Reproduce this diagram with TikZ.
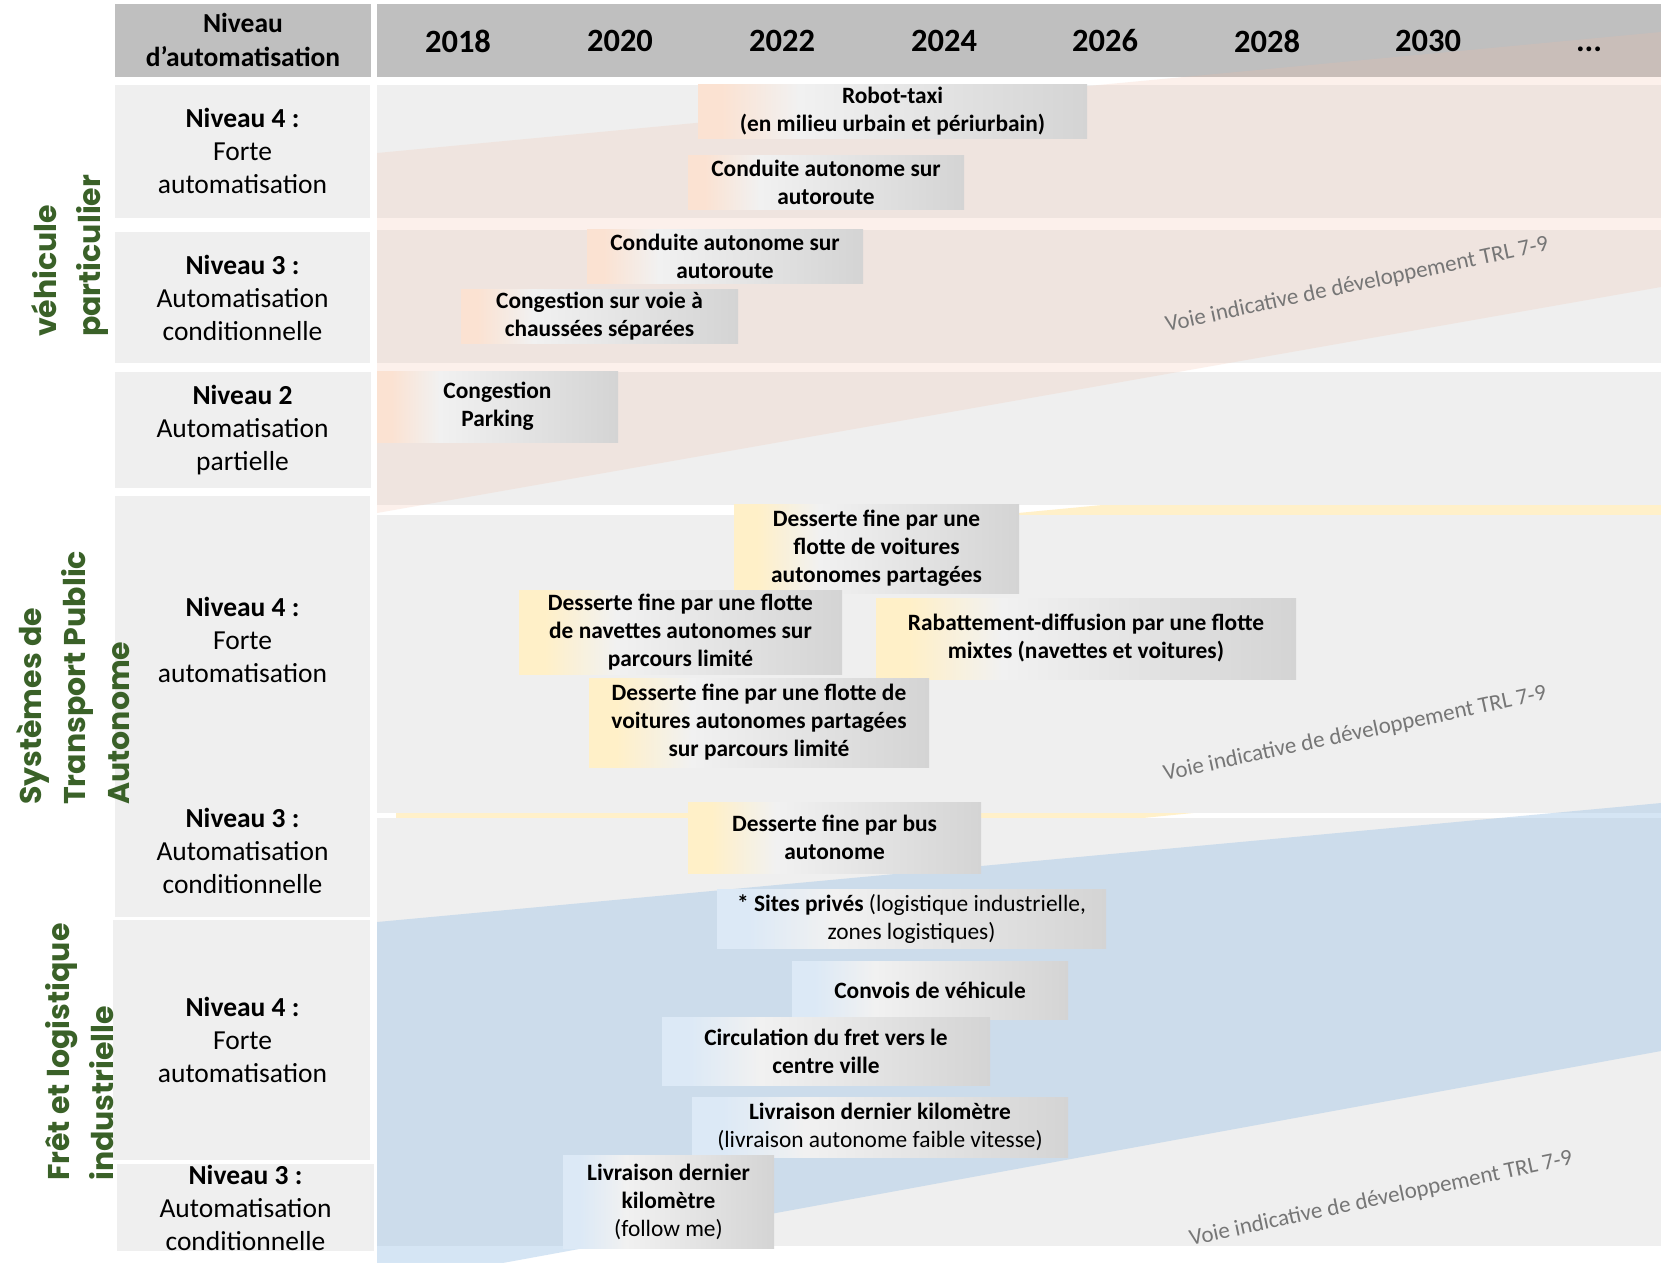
\documentclass[tikz,border=0pt]{standalone}
\usepackage{fontspec}
\setmainfont{Carlito}
\newfontfamily\grpfont{Poppins}
\definecolor{cO}{RGB}{251,226,210}
\definecolor{cY}{RGB}{255,240,200}
\definecolor{cB}{RGB}{220,233,246}
\definecolor{gLt}{RGB}{241,241,241}
\definecolor{gDk}{RGB}{212,212,212}
\definecolor{rowgray}{RGB}{239,239,239}
\definecolor{hdrgray}{RGB}{191,191,191}
\definecolor{bandO}{RGB}{241,188,165}
\definecolor{bandB}{RGB}{157,195,230}
\definecolor{bandY}{RGB}{255,240,201}
\definecolor{grp}{RGB}{58,97,40}
\definecolor{voie}{RGB}{118,118,118}
\pgfdeclarehorizontalshading{shO}{100bp}{color(0bp)=(cO); color(25bp)=(cO); color(28bp)=(cO); color(38bp)=(gLt); color(75bp)=(gDk); color(100bp)=(gDk)}
\pgfdeclarehorizontalshading{shY}{100bp}{color(0bp)=(cY); color(25bp)=(cY); color(29bp)=(cY); color(40bp)=(gLt); color(75bp)=(gDk); color(100bp)=(gDk)}
\pgfdeclarehorizontalshading{shB}{100bp}{color(0bp)=(cB); color(25bp)=(cB); color(29bp)=(cB); color(40bp)=(gLt); color(75bp)=(gDk); color(100bp)=(gDk)}
\tikzset{
  lvl/.style={align=center, inner sep=0pt, font=\fontsize{27.5}{33.4}\selectfont},
  yr/.style={inner sep=0pt, font=\bfseries\fontsize{32.5}{36}\selectfont},
  grplab/.style={rotate=90, anchor=west, align=left, inner sep=0pt, text=grp,
    font=\grpfont\bfseries\fontsize{30}{44}\selectfont},
  evbase/.style={shade, align=center, inner sep=0pt, draw=none,
    font=\bfseries\fontsize{23.4}{28}\selectfont},
  evO/.style={evbase, shading=shO},
  evY/.style={evbase, shading=shY},
  evB/.style={evbase, shading=shB},
  voietxt/.style={rotate=12, inner sep=0pt, text=voie, font=\fontsize{23}{27}\selectfont},
  cellL/.style={fill=rowgray, draw=none},
  hdr/.style={fill=hdrgray, draw=none}
}
\begin{document}
\begin{tikzpicture}[x=1pt,y=-1pt]
\useasboundingbox (0,0) rectangle (1661,1262);
\fill[white] (0,0) rectangle (1661,1262);
% yellow band (only visible in gaps)
\fill[bandY] (396,572) -- (1661,452) -- (1661,766) -- (396,893) -- cycle;
% header
\fill[hdr] (115,4) rectangle (371,77);
\fill[hdr] (377,4) rectangle (1661,77);
% left cells
\fill[cellL] (115,85) rectangle (370,218);
\fill[cellL] (115,232) rectangle (370,363);
\fill[cellL] (115,372) rectangle (371,488);
\fill[cellL] (115,496) rectangle (370,917);
\fill[cellL] (113,920) rectangle (370,1160);
\fill[cellL] (117,1164) rectangle (374,1251);
% right rows
\fill[cellL] (377,85) rectangle (1661,218);
\fill[cellL] (377,230) rectangle (1661,363);
\fill[cellL] (377,372) rectangle (1661,505);
\fill[cellL] (377,515) rectangle (1661,813);
\fill[cellL] (377,818) rectangle (1661,1246);
% orange and blue bands
\fill[bandO, fill opacity=0.21] (377,153) -- (1661,32) -- (1661,287) -- (377,513) -- cycle;
\fill[bandB, fill opacity=0.42] (377,922) -- (1661,803) -- (1661,1051) -- (377,1286) -- cycle;
% indicative texts
\node[voietxt] (v1) at (1357,285) {Voie indicative de développement TRL 7-9};
\node[voietxt] (v2) at (1355,734) {Voie indicative de développement TRL 7-9};
\node[voietxt] (v3) at (1381,1199) {Voie indicative de développement TRL 7-9};
% header texts
\node[align=center, inner sep=0pt, font=\bfseries\fontsize{27.5}{33.4}\selectfont] (hl) at (243,40) {Niveau\\d’automatisation};
\node[yr] (y18) at (458,41) {2018};
\node[yr] (y20) at (620,41) {2020};
\node[yr] (y22) at (782,41) {2022};
\node[yr] (y24) at (944,41) {2024};
\node[yr] (y26) at (1105,41) {2026};
\node[yr] (y28) at (1267,41) {2028};
\node[yr] (y30) at (1428,41) {2030};
\node[yr, anchor=base] (ydots) at (1589,51) {...};
% level labels
\node[lvl] (l1) at (242.5,151) {\textbf{Niveau 4 :}\\Forte\\automatisation};
\node[lvl] (l2) at (242.5,298) {\textbf{Niveau 3 :}\\Automatisation\\conditionnelle};
\node[lvl] (l3) at (242.5,430) {\textbf{Niveau 2}\\Automatisation\\partielle};
\node[lvl] (l4) at (242.5,640) {\textbf{Niveau 4 :}\\Forte\\automatisation};
\node[lvl] (l5) at (242.5,851) {\textbf{Niveau 3 :}\\Automatisation\\conditionnelle};
\node[lvl] (l6) at (242.5,1040) {\textbf{Niveau 4 :}\\Forte\\automatisation};
\node[lvl] (l7) at (245.5,1208) {\textbf{Niveau 3 :}\\Automatisation\\conditionnelle};
% group labels
\node[grplab] (g1) at (70,337) {véhicule\\particulier};
\node[grplab] (g2) at (73,805) {Systèmes de\\Transport Public\\Autonome};
\node[grplab] (g3) at (80,1181) {Frêt et logistique\\industrielle};
% event boxes
\node[evO, minimum width=389, minimum height=54] (robot) at (892.5,111) {Robot-taxi\\(en milieu urbain et périurbain)};
\node[evO, minimum width=276, minimum height=54] (cas4) at (826,182) {Conduite autonome sur\\autoroute};
\node[evO, minimum width=276, minimum height=54] (cas3) at (725,256) {Conduite autonome sur\\autoroute};
\node[evO, minimum width=277, minimum height=54] (cong) at (599.5,316) {Congestion sur voie à\\chaussées séparées};
\node[evO, minimum width=241, minimum height=71] (park) at (497.5,406.5) {Congestion\\Parking};
\node[evY, minimum width=285, minimum height=89] (flotA) at (876.5,548.5) {Desserte fine par une\\flotte de voitures\\autonomes partagées};
\node[evY, minimum width=323, minimum height=84] (nav) at (680.5,632) {Desserte fine par une flotte\\de navettes autonomes sur\\parcours limité};
\node[evY, minimum width=420, minimum height=81] (rab) at (1086,638.5) {Rabattement-diffusion par une flotte\\mixtes (navettes et voitures)};
\node[evY, minimum width=340, minimum height=89] (parc) at (759,722.5) {Desserte fine par une flotte de\\voitures autonomes partagées\\sur parcours limité};
\node[evY, minimum width=293, minimum height=71] (bus) at (834.5,837.5) {Desserte fine par bus\\autonome};
\node[evB, minimum width=389, minimum height=59] (sites) at (911.5,918.5) {* Sites privés {\mdseries (logistique industrielle,}\\{\mdseries zones logistiques)}};
\node[evB, minimum width=276, minimum height=58] (conv) at (930,990) {Convois de véhicule};
\node[evB, minimum width=328, minimum height=68] (circ) at (826,1051) {Circulation du fret vers le\\centre ville};
\node[evB, minimum width=376, minimum height=60] (livA) at (880,1127) {Livraison dernier kilomètre\\{\mdseries (livraison autonome faible vitesse)}};
\node[evB, minimum width=211, minimum height=93] (livB) at (668.5,1201.5) {Livraison dernier\\kilomètre\\{\mdseries (follow me)}};
\end{tikzpicture}
\end{document}
